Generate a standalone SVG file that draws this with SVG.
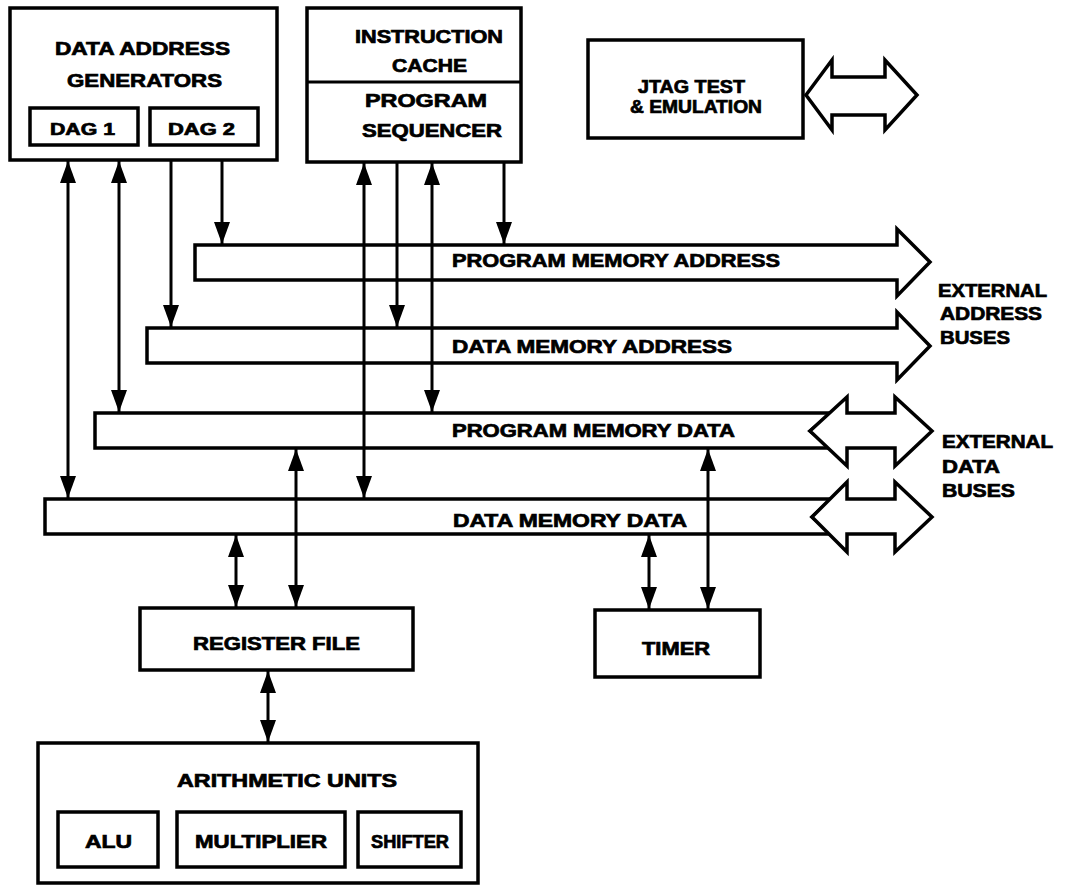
<svg xmlns="http://www.w3.org/2000/svg" width="1066" height="895" viewBox="0 0 1066 895">
<style>
.box{fill:#fff;stroke:#000;stroke-width:3.5}
.bus{fill:#fff;stroke:#000;stroke-width:3.5;stroke-linejoin:miter}
.ln{stroke:#000;stroke-width:3;fill:none}
text{font-family:"Liberation Sans",Arial,sans-serif;font-weight:bold;font-size:18px;fill:#000;stroke:#000;stroke-width:0.7}
.s{font-size:16px}
</style>
<defs>
<marker id="ah" markerUnits="userSpaceOnUse" markerWidth="22" markerHeight="16" viewBox="0 0 22 16" refX="22" refY="8" orient="auto-start-reverse">
<path d="M0,0 L22,8 L0,16 Z" fill="#000"/>
</marker>
</defs>
<rect width="1066" height="895" fill="#fff"/>

<g id="dag">
<rect class="box" x="10" y="8" width="267" height="152"/>
<text x="55" y="55" textLength="175" lengthAdjust="spacingAndGlyphs">DATA ADDRESS</text>
<text x="67" y="87" textLength="155" lengthAdjust="spacingAndGlyphs">GENERATORS</text>
<g id="dag1"><rect class="box" x="30" y="108" width="108" height="37"/>
<text class="s" x="50" y="135" textLength="65" lengthAdjust="spacingAndGlyphs">DAG 1</text></g>
<g id="dag2"><rect class="box" x="150" y="108" width="108" height="37"/>
<text class="s" x="168" y="135" textLength="67" lengthAdjust="spacingAndGlyphs">DAG 2</text></g>
</g>

<g id="sequencer">
<rect class="box" x="307" y="8" width="214" height="154"/>
<line class="ln" x1="307" y1="82" x2="521" y2="82"/>
<text x="355" y="43" textLength="148" lengthAdjust="spacingAndGlyphs">INSTRUCTION</text>
<text x="392" y="72" textLength="75" lengthAdjust="spacingAndGlyphs">CACHE</text>
<text x="365" y="107" textLength="122" lengthAdjust="spacingAndGlyphs">PROGRAM</text>
<text x="362" y="137" textLength="140" lengthAdjust="spacingAndGlyphs">SEQUENCER</text>
</g>

<g id="jtag">
<rect class="box" x="588" y="40" width="215" height="98"/>
<text x="638" y="93" textLength="107" lengthAdjust="spacingAndGlyphs">JTAG TEST</text>
<text x="630" y="113" textLength="132" lengthAdjust="spacingAndGlyphs">&amp; EMULATION</text>
<polygon class="bus" points="806,95 832,60 832,77 885,77 885,60 917,95 885,130 885,115 832,115 832,130"/>
</g>

<g id="pma">
<polygon class="bus" points="195,245 897,245 897,229 930,262 897,296 897,280 195,280"/>
<text x="452" y="267" textLength="328" lengthAdjust="spacingAndGlyphs">PROGRAM MEMORY ADDRESS</text>
</g>
<g id="dma">
<polygon class="bus" points="147,328 897,328 897,312 930,346 897,380 897,363 147,363"/>
<text x="452" y="353" textLength="280" lengthAdjust="spacingAndGlyphs">DATA MEMORY ADDRESS</text>
</g>
<g id="pmd">
<polygon class="bus" points="95,413 831,413 810,431 831,448 95,448"/>
<polygon class="bus" points="810,431 847,397 847,413 895,413 895,397 932,431 895,466 895,448 847,448 847,466"/>
<text x="452" y="437" textLength="283" lengthAdjust="spacingAndGlyphs">PROGRAM MEMORY DATA</text>
</g>
<g id="dmd">
<polygon class="bus" points="45,499 831,499 812,517 831,534 45,534"/>
<polygon class="bus" points="812,517 847,482 847,499 895,499 895,482 932,517 895,552 895,534 847,534 847,552"/>
<text x="453" y="527" textLength="234" lengthAdjust="spacingAndGlyphs">DATA MEMORY DATA</text>
</g>

<g id="ext-address-label">
<text x="938" y="297" textLength="109" lengthAdjust="spacingAndGlyphs">EXTERNAL</text>
<text x="940" y="320" textLength="102" lengthAdjust="spacingAndGlyphs">ADDRESS</text>
<text x="940" y="344" textLength="70" lengthAdjust="spacingAndGlyphs">BUSES</text>
</g>
<g id="ext-data-label">
<text x="942" y="448" textLength="111" lengthAdjust="spacingAndGlyphs">EXTERNAL</text>
<text x="942" y="473" textLength="58" lengthAdjust="spacingAndGlyphs">DATA</text>
<text x="942" y="497" textLength="73" lengthAdjust="spacingAndGlyphs">BUSES</text>
</g>

<g id="regfile">
<rect class="box" x="140" y="608" width="273" height="62"/>
<text x="193" y="650" textLength="167" lengthAdjust="spacingAndGlyphs">REGISTER FILE</text>
</g>

<g id="timer">
<rect class="box" x="595" y="610" width="165" height="67"/>
<text x="642" y="655" textLength="68" lengthAdjust="spacingAndGlyphs">TIMER</text>
</g>

<g id="arith">
<rect class="box" x="38" y="743" width="440" height="140"/>
<text x="177" y="787" textLength="220" lengthAdjust="spacingAndGlyphs">ARITHMETIC UNITS</text>
<g id="alu"><rect class="box" x="58" y="812" width="100" height="55"/>
<text x="85" y="848" textLength="47" lengthAdjust="spacingAndGlyphs">ALU</text></g>
<g id="mult"><rect class="box" x="177" y="812" width="168" height="55"/>
<text x="195" y="848" textLength="132" lengthAdjust="spacingAndGlyphs">MULTIPLIER</text></g>
<g id="shifter"><rect class="box" x="358" y="812" width="103" height="55"/>
<text x="371" y="848" textLength="78" lengthAdjust="spacingAndGlyphs">SHIFTER</text></g>
</g>

<g id="connectors">
<line class="ln" x1="68" y1="161" x2="68" y2="498" marker-start="url(#ah)" marker-end="url(#ah)"/>
<line class="ln" x1="119" y1="161" x2="119" y2="412" marker-start="url(#ah)" marker-end="url(#ah)"/>
<line class="ln" x1="171" y1="161" x2="171" y2="327" marker-end="url(#ah)"/>
<line class="ln" x1="222" y1="161" x2="222" y2="244" marker-end="url(#ah)"/>
<line class="ln" x1="364" y1="163" x2="364" y2="498" marker-start="url(#ah)" marker-end="url(#ah)"/>
<line class="ln" x1="397" y1="163" x2="397" y2="327" marker-end="url(#ah)"/>
<line class="ln" x1="432" y1="163" x2="432" y2="412" marker-start="url(#ah)" marker-end="url(#ah)"/>
<line class="ln" x1="504" y1="163" x2="504" y2="244" marker-end="url(#ah)"/>
<line class="ln" x1="236" y1="535" x2="236" y2="607" marker-start="url(#ah)" marker-end="url(#ah)"/>
<line class="ln" x1="296" y1="449" x2="296" y2="607" marker-start="url(#ah)" marker-end="url(#ah)"/>
<line class="ln" x1="268" y1="671" x2="268" y2="742" marker-start="url(#ah)" marker-end="url(#ah)"/>
<line class="ln" x1="649" y1="535" x2="649" y2="609" marker-start="url(#ah)" marker-end="url(#ah)"/>
<line class="ln" x1="708" y1="449" x2="708" y2="609" marker-start="url(#ah)" marker-end="url(#ah)"/>
</g>
</svg>
